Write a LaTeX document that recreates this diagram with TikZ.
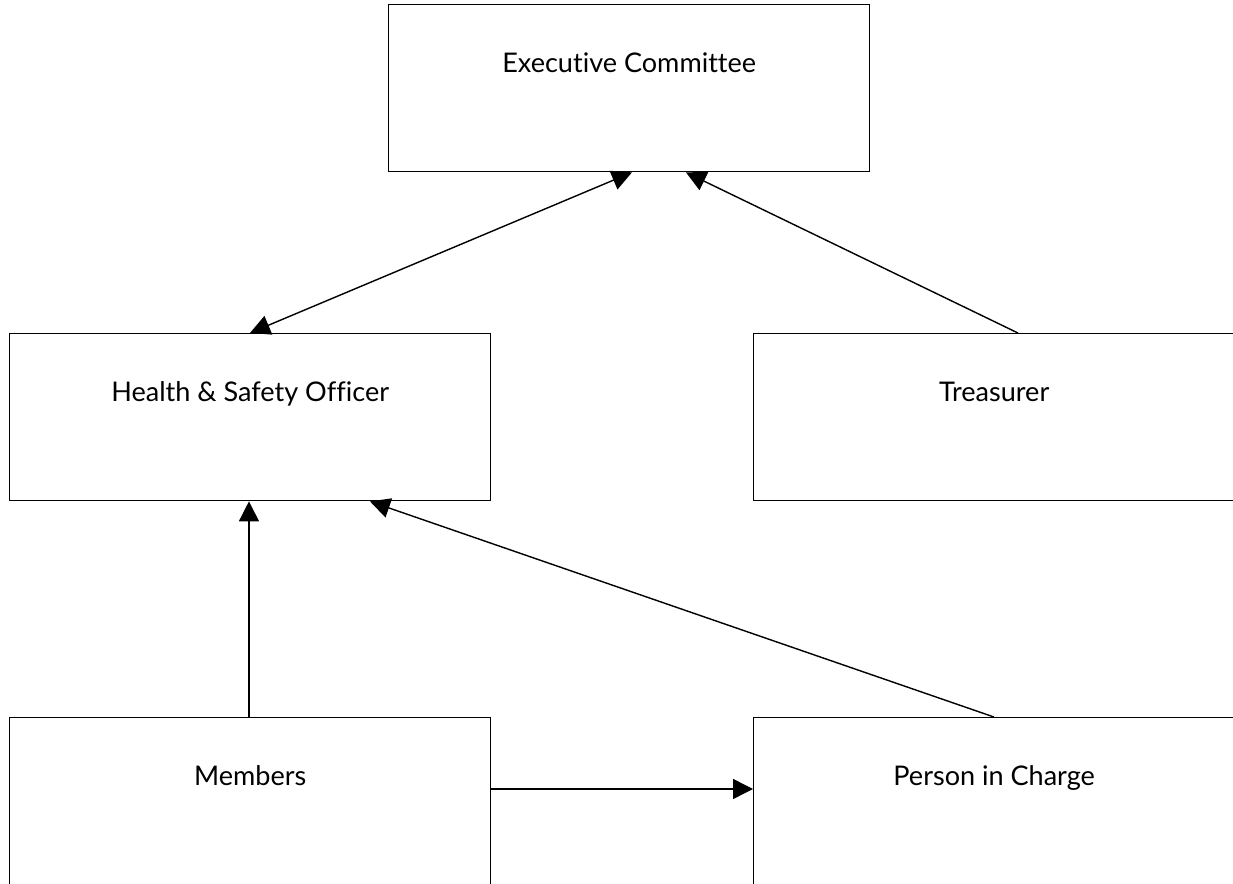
\documentclass[tikz,border=0pt]{standalone}
\usepackage{fontspec}
\setmainfont{Lato}[Ligatures=NoCommon]
\usetikzlibrary{arrows.meta,calc}
\begin{document}
\begin{tikzpicture}[x=0.02cm,y=-0.02cm,
  box/.style={draw, line width=0.8pt, minimum width=9.62cm, text height=1.36cm, text depth=1.98cm, inner ysep=0pt, inner xsep=0pt, anchor=north west, font=\fontsize{15.4}{18}\selectfont},
  conn/.style={line width=0.8pt, -{Triangle[length=0.4cm,width=0.4cm]}},
  biconn/.style={line width=0.8pt, {Triangle[length=0.4cm,width=0.4cm]}-{Triangle[length=0.4cm,width=0.4cm]}}]
\useasboundingbox (0,0) rectangle (1233,883);
\node[box] (ec) at (388,4) {Executive Committee};
\node[box] (hs) at (9,333) {Health \& Safety Officer};
\node[box] (tr) at (753,333) {Treasurer};
\node[box] (mem) at (9,717) {Members};
\node[box] (pic) at (753,717) {Person in Charge};
\draw[biconn] ([xshift=4.88cm]ec.south west) -- ([xshift=4.82cm]hs.north west);
\draw[conn] ([xshift=5.30cm]tr.north west) -- ([xshift=5.96cm]ec.south west);
\draw[conn] ([xshift=4.80cm]mem.north west) -- ([xshift=4.80cm]hs.south west);
\draw[conn] ([xshift=4.82cm]pic.north west) -- ([xshift=7.22cm]hs.south west);
\draw[conn] ([yshift=-1.44cm]mem.north east) -- ([yshift=-1.44cm]pic.north west);
\end{tikzpicture}
\end{document}
